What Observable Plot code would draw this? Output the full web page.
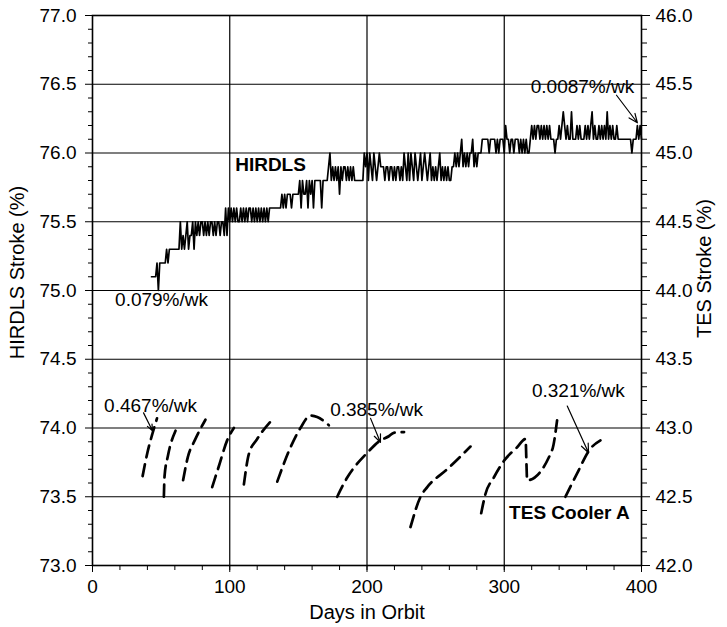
<!DOCTYPE html>
<html><head><meta charset="utf-8">
<script src="https://cdn.jsdelivr.net/npm/d3@7"></script>
<script src="https://cdn.jsdelivr.net/npm/@observablehq/plot@0.6"></script>
<style>body{margin:0;background:#fff} svg{display:block}</style>
</head><body><div id="chart"></div>
<script>
// HIRDLS cooler stroke (%), one value per day starting at day 43
const hirdlsStartDay = 43;
const hirdlsStroke = [
75.1,75.1,75.1,75.1,75.2,75.0,75.2,
75.2,75.2,75.2,75.2,75.3,75.2,75.3,75.3,75.3,75.3,
75.3,75.3,75.3,75.3,75.5,75.3,75.4,75.3,75.4,75.5,
75.3,75.4,75.4,75.5,75.3,75.5,75.4,75.5,75.4,75.5,
75.5,75.4,75.5,75.4,75.5,75.4,75.5,75.5,75.4,75.5,
75.4,75.5,75.5,75.4,75.5,75.5,75.4,75.6,75.4,75.6,
75.5,75.6,75.5,75.6,75.5,75.6,75.5,75.5,75.6,75.5,
75.6,75.5,75.6,75.5,75.6,75.6,75.5,75.6,75.5,75.6,
75.5,75.6,75.5,75.6,75.5,75.6,75.5,75.6,75.5,75.6,
75.6,75.6,75.6,75.6,75.6,75.6,75.6,75.6,75.7,75.6,
75.7,75.6,75.7,75.7,75.7,75.6,75.7,75.7,75.7,75.7,
75.7,75.8,75.6,75.8,75.7,75.7,75.8,75.6,75.8,75.7,
75.8,75.6,75.8,75.8,75.8,75.8,75.8,75.6,75.8,75.8,
75.8,75.8,75.9,76.0,75.8,75.9,75.8,75.9,75.8,75.9,
75.7,75.9,75.8,75.9,75.9,75.8,75.9,75.8,75.9,75.8,
75.9,75.8,75.8,75.8,75.8,75.8,75.8,75.8,76.0,75.9,
76.0,75.8,76.0,75.9,75.8,76.0,75.9,75.8,75.9,76.0,
75.9,75.9,75.9,75.8,75.9,75.9,75.8,75.9,75.9,75.8,
75.9,75.8,75.9,75.9,75.8,75.9,75.8,76.0,75.9,75.8,
76.0,75.8,76.0,75.9,75.8,76.0,75.9,75.8,75.9,76.0,
75.8,75.9,76.0,75.9,75.8,75.9,76.0,75.8,75.9,75.8,
75.9,75.8,75.9,76.0,75.8,75.9,75.8,75.9,75.8,75.9,
75.8,75.8,75.9,75.9,76.0,75.9,76.0,75.9,76.0,76.1,
75.9,76.0,75.9,76.0,75.9,76.0,76.0,76.1,75.9,76.0,
75.9,76.0,76.0,76.0,76.1,76.1,76.1,76.1,76.1,76.0,
76.1,76.1,76.1,76.1,76.0,76.1,76.0,76.1,76.1,76.1,
76.0,76.2,76.1,76.1,76.0,76.1,76.1,76.0,76.1,76.1,
76.1,76.0,76.1,76.0,76.1,76.0,76.1,76.0,76.0,76.1,
76.2,76.1,76.2,76.1,76.2,76.2,76.1,76.2,76.1,76.2,
76.1,76.2,76.1,76.2,76.1,76.1,76.1,76.0,76.1,76.1,
76.2,76.1,76.2,76.3,76.2,76.1,76.2,76.1,76.1,76.3,
76.1,76.1,76.1,76.2,76.1,76.2,76.1,76.1,76.1,76.2,
76.1,76.2,76.1,76.2,76.3,76.1,76.2,76.1,76.1,76.2,
76.1,76.2,76.1,76.2,76.1,76.3,76.1,76.2,76.1,76.2,
76.1,76.1,76.2,76.1,76.1,76.1,76.1,76.1,76.1,76.1,
76.1,76.1,76.1,76.0,76.1,76.1,76.1,76.2,76.1,76.2,
76.1
];

// TES Cooler A stroke (%), one dashed curve per cycle
const tesSegment = [1,1,1,1, 2,2,2,2, 3,3,3,3, 4,4,4,4, 5,5,5,5, 6,6,6,6,6,6,
  7,7,7,7,7,7,7,7, 8,8,8,8,8, 9,9,9,9,9,9,9,9,9, 10,10,10,10];
const tesDay = [36.5,40,43.7,47, 52,52.5,55,60.5, 66,69.5,74.5,82.3, 87.2,92,98.1,103,
  110.3,113.9,120,130.9, 134.6,144.3,151.5,158.8,163.7,172.2,
  178.3,185.6,192,200.2,209.8,215.9,219.5,227, 231.7,239,243.9,258.4,275.4,
  283.2,286.3,292.4,299.7,309.4,315.5,316.7,334.9,338.5, 344.6,353.1,362.8,370.1];
const tesStroke = [42.65,42.82,42.96,43.07, 42.50,42.65,42.80,42.98, 42.62,42.79,42.91,43.06,
  42.57,42.72,42.91,43.00, 42.59,42.81,42.92,43.06, 42.61,42.86,43.00,43.09,43.08,43.02,
  42.50,42.64,42.73,42.82,42.91,42.94,42.965,42.97, 42.28,42.50,42.57,42.70,42.865,
  42.38,42.52,42.64,42.76,42.86,42.92,42.62,42.84,43.055, 42.50,42.67,42.85,42.91];

const dayTicks = [0, 100, 200, 300, 400];
const dayMinorTicks = [0,20,40,60,80,100,120,140,160,180,200,220,240,260,280,300,320,340,360,380,400];
const hirdlsTicks = [73.0, 73.5, 74.0, 74.5, 75.0, 75.5, 76.0, 76.5, 77.0];
const hirdlsMinorTicks = [73.1,73.2,73.3,73.4,73.6,73.7,73.8,73.9,74.1,74.2,74.3,74.4,74.6,74.7,74.8,74.9,
  75.1,75.2,75.3,75.4,75.6,75.7,75.8,75.9,76.1,76.2,76.3,76.4,76.6,76.7,76.8,76.9];
const tesTicks = [42.0, 42.5, 43.0, 43.5, 44.0, 44.5, 45.0, 45.5, 46.0];
const TES_OFFSET = 31; // right axis (TES) = left axis (HIRDLS) - 31

// rate annotations (placed in HIRDLS-axis units)
const rateText = ["0.467%/wk", "0.385%/wk", "0.321%/wk", "0.0087%/wk", "0.079%/wk"];
const rateDay = [42.3, 207, 354, 357, 50.3];
const rateY = [74.16, 74.13, 74.27, 76.48, 74.93];
const arrowDay1 = [37.2, 202.6, 345.9, 381.8];
const arrowY1 = [74.11, 74.07, 74.16, 76.42];
const arrowDay2 = [43.7, 209.8, 361.4, 397];
const arrowY2 = [73.98, 73.895, 73.82, 76.22];
const seriesLabel = ["HIRDLS", "TES Cooler A"];
const seriesLabelDay = [129.7, 347.5];
const seriesLabelY = [75.91, 73.385];

const hirdls = hirdlsStroke.map((v, i) => ({day: hirdlsStartDay + i, stroke: v}));
const tes = tesDay.map((d, i) => ({seg: tesSegment[i], day: d, tes: tesStroke[i]}));
const rates = rateText.map((t, i) => ({text: t, day: rateDay[i], y: rateY[i]}));
const arrows = arrowDay1.map((d, i) => ({x1: d, y1: arrowY1[i], x2: arrowDay2[i], y2: arrowY2[i]}));
const labels = seriesLabel.map((t, i) => ({text: t, day: seriesLabelDay[i], y: seriesLabelY[i]}));

const font = "'Liberation Sans', Arial, Helvetica, sans-serif";
const fs = 19;

const chart = Plot.plot({
  width: 727, height: 627,
  marginLeft: 92, marginRight: 86, marginTop: 15, marginBottom: 62,
  style: {fontFamily: font, fontSize: fs + "px", color: "black", background: "white"},
  x: {domain: [0, 400]},
  y: {domain: [73, 77]},
  marks: [
    Plot.gridX([100, 200, 300], {stroke: "black", strokeOpacity: 1, strokeWidth: 1.2}),
    Plot.gridY(hirdlsTicks, {stroke: "black", strokeOpacity: 1, strokeWidth: 1.2}),
    Plot.axisX(dayMinorTicks, {tickSize: 5, tickFormat: () => "", label: null}),
    Plot.axisX(dayTicks, {tickSize: 7, tickPadding: 7, fontSize: fs, label: null}),
    Plot.axisY(hirdlsMinorTicks, {anchor: "left", tickSize: 4, tickFormat: () => "", label: null}),
    Plot.axisY(hirdlsTicks, {anchor: "left", tickSize: 7, tickPadding: 9, fontSize: fs, tickFormat: d => d.toFixed(1), label: null}),
    Plot.axisY(hirdlsMinorTicks, {anchor: "right", tickSize: 5, tickFormat: () => "", label: null}),
    Plot.axisY(tesTicks.map(t => t + TES_OFFSET), {anchor: "right", tickSize: 8, tickPadding: 6, fontSize: fs, tickFormat: d => (d - TES_OFFSET).toFixed(1), label: null}),
    Plot.frame({stroke: "black", strokeWidth: 1.6}),
    Plot.line(hirdls, {x: "day", y: "stroke", stroke: "black", strokeWidth: 1.7}),
    Plot.line(tes, {x: "day", y: d => d.tes + TES_OFFSET, z: "seg", stroke: "black", strokeWidth: 2.7, strokeDasharray: "12,7", curve: "monotone-x"}),
    Plot.arrow(arrows, {x1: "x1", y1: "y1", x2: "x2", y2: "y2", stroke: "black", strokeWidth: 1.2, headLength: 12, headAngle: 45}),
    Plot.text(rates, {x: "day", y: "y", text: "text", fontSize: fs, fill: "black"}),
    Plot.text(labels, {x: "day", y: "y", text: "text", fontSize: fs, fontWeight: "bold", fill: "black"}),
    Plot.text(["Days in Orbit"], {frameAnchor: "bottom", textAnchor: "middle", dy: 53, fontSize: 20, fill: "black"}),
    Plot.text(["HIRDLS Stroke (%)"], {frameAnchor: "left", textAnchor: "middle", dx: -75, dy: -18, rotate: -90, fontSize: 20, fill: "black"}),
    Plot.text(["TES Stroke (%)"], {frameAnchor: "right", textAnchor: "middle", dx: 63, dy: -22, rotate: -90, fontSize: 20, fill: "black"})
  ]
});
document.getElementById("chart").append(chart);
</script>
</body></html>
